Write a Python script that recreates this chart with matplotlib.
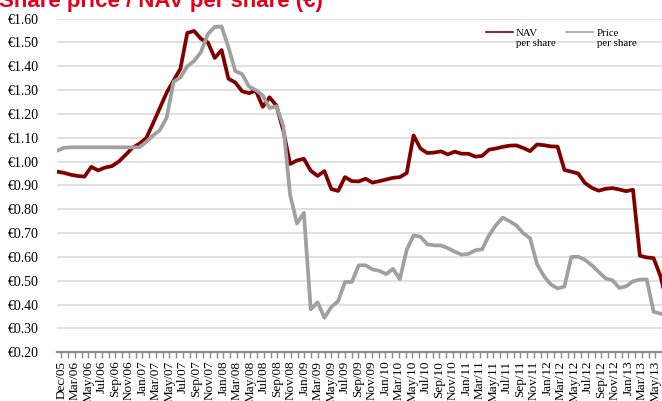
import numpy as np
import matplotlib
matplotlib.use("Agg")
import matplotlib.pyplot as plt

# month-end values, Dec/05 onward
nav = [0.958, 0.953, 0.945, 0.940, 0.937, 0.978, 0.963, 0.975, 0.981, 1.000,
       1.028, 1.058, 1.075, 1.098, 1.160, 1.225, 1.290, 1.340, 1.390, 1.540,
       1.548, 1.515, 1.500, 1.435, 1.468, 1.348, 1.332, 1.295, 1.287, 1.298,
       1.230, 1.270, 1.235, 1.130, 0.990, 1.005, 1.012, 0.962, 0.940, 0.960,
       0.885, 0.877, 0.935, 0.918, 0.917, 0.928, 0.912, 0.918, 0.925, 0.932,
       0.935, 0.952, 1.110, 1.055, 1.036, 1.038, 1.043, 1.030, 1.042, 1.033,
       1.033, 1.021, 1.024, 1.050, 1.055, 1.062, 1.067, 1.068, 1.057, 1.044,
       1.072, 1.069, 1.064, 1.063, 0.965, 0.958, 0.950, 0.910, 0.890, 0.878,
       0.886, 0.889, 0.883, 0.876, 0.882, 0.605, 0.598, 0.595, 0.520, 0.400]

price = [1.046, 1.058, 1.060, 1.060, 1.060, 1.060, 1.060, 1.060, 1.060, 1.060,
         1.060, 1.060, 1.060, 1.082, 1.110, 1.132, 1.185, 1.335, 1.353, 1.400,
         1.422, 1.460, 1.535, 1.565, 1.567, 1.480, 1.380, 1.367, 1.315, 1.300,
         1.278, 1.225, 1.232, 1.150, 0.860, 0.740, 0.785, 0.380, 0.410, 0.345,
         0.390, 0.415, 0.495, 0.495, 0.565, 0.565, 0.548, 0.542, 0.528, 0.550,
         0.507, 0.630, 0.690, 0.685, 0.653, 0.649, 0.648, 0.637, 0.622, 0.610,
         0.613, 0.628, 0.632, 0.690, 0.733, 0.765, 0.750, 0.732, 0.700, 0.678,
         0.570, 0.520, 0.485, 0.468, 0.476, 0.600, 0.601, 0.588, 0.565, 0.537,
         0.510, 0.502, 0.470, 0.477, 0.498, 0.505, 0.506, 0.370, 0.362, 0.360]

tick_labels = ["Dec/05", "Mar/06", "May/06", "Jul/06", "Sep/06", "Nov/06",
               "Jan/07", "Mar/07", "May/07", "Jul/07", "Sep/07", "Nov/07",
               "Jan/08", "Mar/08", "May/08", "Jul/08", "Sep/08", "Nov/08",
               "Jan/09", "Mar/09", "May/09", "Jul/09", "Sep/09", "Nov/09",
               "Jan/10", "Mar/10", "May/10", "Jul/10", "Sep/10", "Nov/10",
               "Jan/11", "Mar/11", "May/11", "Jul/11", "Sep/11", "Nov/11",
               "Jan/12", "Mar/12", "May/12", "Jul/12", "Sep/12", "Nov/12",
               "Jan/13", "Mar/13", "May/13"]

y_ticks = [0.2, 0.3, 0.4, 0.5, 0.6, 0.7, 0.8, 0.9, 1.0, 1.1, 1.2, 1.3, 1.4, 1.5, 1.6]

W, H = 662, 401
DX = 6.86  # pixels per month
fig = plt.figure(figsize=(W / 100, H / 100), dpi=100)
ax = fig.add_axes([57 / W, 48.7 / H, (W - 57) / W, 333.7 / H])

x = np.arange(len(nav))
ax.plot(x, nav, color="#800000", lw=2.7, label="NAV")
ax.plot(x, price, color="#a0a0a0", lw=2.7, label="Price")

ax.set_xlim(0, (W - 57) / DX)
ax.set_ylim(0.2, 1.6)

ax.set_yticks(y_ticks)
ax.set_yticklabels(["€%.2f" % v for v in y_ticks], family="Liberation Serif", fontsize=10)
ax.yaxis.grid(True, color="#d9d9d9", lw=1.1)
ax.set_axisbelow(True)
ax.tick_params(axis="y", length=0, pad=13)

# the source's label row is spaced slightly tighter than the data points
pos = (4.5 + 13.5 * np.arange(len(tick_labels))) / DX
ax.set_xticks(pos)
ax.set_xticklabels(tick_labels, rotation=90, family="Liberation Serif", fontsize=9.5)
ax.set_xticks(pos + 6.75 / DX, minor=True)
ax.tick_params(axis="x", which="both", length=4, color="#8c8c8c", width=1, pad=2)

for side in ["top", "right", "left"]:
    ax.spines[side].set_visible(False)
ax.spines["bottom"].set_color("#8c8c8c")
ax.spines["bottom"].set_linewidth(1.6)

leg = ax.legend(loc="upper left", bbox_to_anchor=(485.7 / W, 1 - 28 / H),
                bbox_transform=fig.transFigure, ncol=2, frameon=False,
                prop={"family": "Liberation Serif", "size": 7.8},
                handlelength=2.5, handletextpad=0.3, columnspacing=2.6,
                borderaxespad=0, borderpad=0)
for line in leg.get_lines():
    line.set_linewidth(1.2)

fig.text(-0.002, 1 - 7 / H, "Share price / NAV per share (€)", fontsize=16,
         weight="bold", color="#e2001a", family="Liberation Sans", va="baseline")

# second line of each legend entry, placed under the drawn label
fig.canvas.draw()
for txt in leg.get_texts():
    bb = txt.get_window_extent()
    fig.text(bb.x0 / W, (bb.y0 - 10.5) / H, "per share", ha="left", va="bottom",
             family="Liberation Serif", fontsize=7.8)

fig.savefig("out.png", dpi=100)
